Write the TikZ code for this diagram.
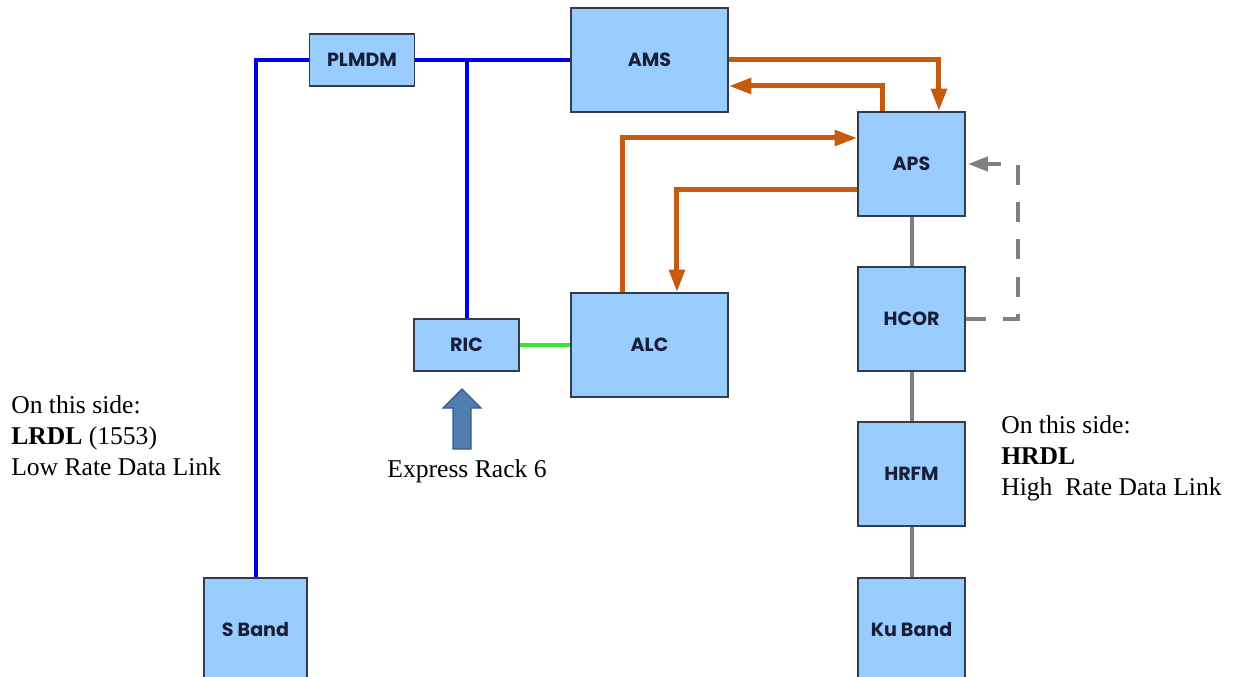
\documentclass[tikz,border=0pt]{standalone}
\usepackage{fontspec}
\setmainfont{Liberation Serif}
\newfontfamily\boxfont{Poppins}
\usetikzlibrary{arrows.meta}
\definecolor{boxfill}{RGB}{153,204,255}
\definecolor{boxline}{RGB}{50,60,75}
\definecolor{boxtext}{RGB}{25,30,55}
\definecolor{lrdl}{RGB}{0,0,225}
\definecolor{ctrl}{RGB}{197,90,17}
\definecolor{hrdl}{RGB}{128,128,128}
\definecolor{ricl}{RGB}{50,230,50}
\definecolor{rackfill}{RGB}{79,125,180}
\definecolor{rackline}{RGB}{56,90,138}
\tikzset{
  unit/.style={draw=boxline, fill=boxfill, line width=1.2pt, inner sep=0pt,
    font=\boxfont\bfseries\fontsize{14.3}{16}\selectfont, text=boxtext},
  bigunit/.style={unit, minimum width=117.75pt, minimum height=78pt},
  squnit/.style={unit, minimum width=80.25pt, minimum height=78pt},
  smallunit/.style={unit, minimum width=79pt, minimum height=39pt},
  lowlink/.style={draw=lrdl, line width=3pt},
  ctrlarrow/.style={draw=ctrl, line width=3.75pt,
    -{Triangle[width=11.5pt,length=17pt]}},
  highlink/.style={draw=hrdl, line width=3pt},
  riclink/.style={draw=ricl, line width=3pt},
  spare/.style={draw=hrdl, line width=3pt, dash pattern=on 15pt off 13pt,
    -{Triangle[width=10.5pt,length=15pt]}, shorten >=1.5pt},
  note/.style={align=left, inner sep=0pt, anchor=base west,
    font=\fontsize{19.2}{23.2}\selectfont},
}
\begin{document}
\begin{tikzpicture}[x=0.75pt, y=-0.75pt]
\useasboundingbox (0,0) rectangle (1235,677);

% units
\node[smallunit] (plmdm) at (362,60) {PLMDM};
\node[bigunit] (ams) at (649.5,60) {AMS};
\node[squnit] (aps) at (911.5,164) {APS};
\node[squnit] (hcor) at (911.5,319) {HCOR};
\node[squnit] (hrfm) at (911.5,474) {HRFM};
\node[squnit] (ku) at (911.5,630) {Ku Band};
\node[unit, minimum width=77.25pt, minimum height=78pt] (sband) at (255.5,630) {S Band};
\node[smallunit] (ric) at (466.5,345) {RIC};
\node[bigunit] (alc) at (649.5,345) {ALC};

% low rate data link (1553)
\draw[lowlink] (plmdm.west) -| (sband.north);
\draw[lowlink] (plmdm.east) -- (ams.west);
\draw[lowlink] (ric.north) -- (ric.north |- plmdm.east);
\draw[riclink] (ric.east) -- (alc.west);

% command and data paths
\draw[ctrlarrow] (ams.east) -| ([xshift=20.6pt]aps.north);
\draw[ctrlarrow] ([xshift=-21.4pt]aps.north) |- ([yshift=-19.5pt]ams.east);
\draw[ctrlarrow] ([xshift=-19.9pt]alc.north) |- ([yshift=19.5pt]aps.west);
\draw[ctrlarrow] ([yshift=-19.5pt]aps.west) -| ([xshift=20.6pt]alc.north);

% high rate data link
\draw[highlink] (aps.south) -- (hcor.north);
\draw[highlink] (hcor.south) -- (hrfm.north);
\draw[highlink] (hrfm.south) -- (ku.north);
\coordinate (bypass) at (1018,319);
\draw[spare] (hcor.east) -- (bypass) |- (aps.east);

% Express Rack 6 feed into RIC
\draw[fill=rackfill, draw=rackline, line width=1pt, line join=miter]
  (462,389) -- (481,408) -- (471,408) -- (471,449) -- (453,449)
  -- (453,408) -- (443,408) -- cycle;
\node[note, anchor=base] (rack) at (467,477) {Express Rack 6};

% side notes (anchored at the baseline of their last line)
\node[note] (lownote) at (11,475)
  {On this side:\\\textbf{LRDL} (1553)\\Low Rate Data Link};
\node[note] (highnote) at (1001,495)
  {On this side:\\\textbf{HRDL}\\High\ \ Rate Data Link};
\end{tikzpicture}
\end{document}
